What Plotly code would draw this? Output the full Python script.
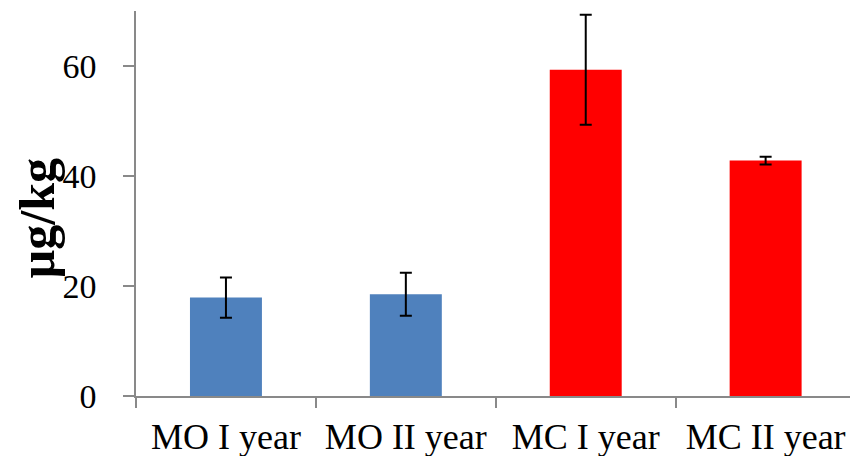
import plotly.graph_objects as go

# Mean concentrations (µg/kg) with standard deviations per group
categories = ["MO I year", "MO II year", "MC I year", "MC II year"]
means = [17.9, 18.5, 59.3, 42.8]
errors = [3.65, 3.9, 10.0, 0.7]
bar_colors = ["#4F81BD", "#4F81BD", "#FF0000", "#FF0000"]
y_ticks = [0, 20, 40, 60]

FONT = "Liberation Serif"
AXIS_GRAY = "#898989"

fig = go.Figure(
    go.Bar(
        x=categories,
        y=means,
        marker=dict(color=bar_colors, line=dict(width=0)),
        width=0.4,
        error_y=dict(type="data", array=errors, visible=True,
                     color="black", thickness=2, width=6),
    )
)

fig.update_layout(
    width=850,
    height=456,
    margin=dict(l=136, r=0, t=11, b=60),
    paper_bgcolor="white",
    plot_bgcolor="white",
    showlegend=False,
    font=dict(family=FONT, color="black"),
    xaxis=dict(
        range=[-0.5, 3.469],
        showline=True, linecolor=AXIS_GRAY, linewidth=1.5,
        ticks="outside", tickson="boundaries", ticklen=10,
        tickcolor=AXIS_GRAY, tickwidth=1.5,
        tickfont=dict(family=FONT, size=36, color="black"),
        ticklabelstandoff=8,
        showgrid=False, zeroline=False,
    ),
    yaxis=dict(
        range=[0, 70],
        tickvals=y_ticks,
        showline=True, linecolor=AXIS_GRAY, linewidth=1.5,
        ticks="outside", ticklen=11, tickcolor=AXIS_GRAY, tickwidth=1.5,
        tickfont=dict(family=FONT, size=34, color="black"),
        ticklabelstandoff=20,
        showgrid=False, zeroline=False,
    ),
    annotations=[
        dict(
            text="<b>µg/kg</b>",
            xref="paper", yref="paper",
            x=-0.140, y=0.461,
            xanchor="center", yanchor="middle",
            textangle=-90, showarrow=False,
            font=dict(family=FONT, size=50, color="black"),
        )
    ],
)

fig.write_html("out.html")
